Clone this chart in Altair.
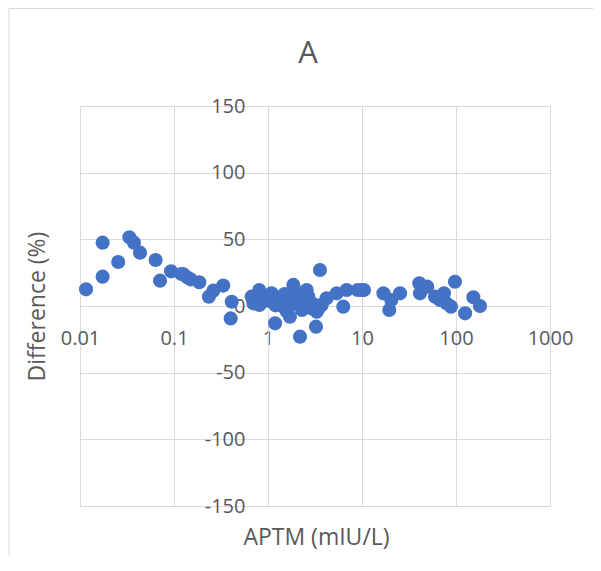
import altair as alt
import pandas as pd

# APTM (mIU/L) and Difference (%)
aptm = [
    0.0116, 0.0174, 0.0174, 0.0255, 0.0335, 0.0375, 0.0435, 0.0638, 0.071, 0.093,
    0.12, 0.126, 0.138, 0.15, 0.186, 0.235, 0.262, 0.334, 0.411, 0.401,
    0.67, 0.698, 0.70, 0.807, 0.81, 0.82, 1.09, 1.14, 1.19, 1.34,
    1.46, 1.58, 1.71, 1.86, 1.94, 2.19, 2.19, 2.46, 2.58, 2.69,
    2.92, 3.24, 3.3, 3.57, 3.72, 4.2, 5.38, 6.32, 6.87, 9.0,
    9.93, 10.5, 16.9, 19.5, 20.5, 25.4, 40.7, 41.4, 49.5, 59.8,
    67.6, 74.5, 79.0, 88.5, 97.5, 125.0, 153.0, 180.0,
    0.9, 1.0, 1.2, 1.25, 1.5, 1.6, 1.75, 2.05, 2.3, 2.8, 3.1, 3.45,
]
diff = [
    12.5, 47.5, 22.0, 33.0, 51.5, 47.5, 40.0, 34.5, 19.0, 26.0,
    24.0, 23.8, 21.5, 20.0, 17.8, 7.0, 11.5, 15.3, 3.2, -9.3,
    7.0, 5.8, 2.0, 12.0, 0.8, 2.0, 9.5, 8.0, -13.0, 5.8,
    -0.5, -4.0, -8.0, 15.8, 8.0, 4.5, -23.0, 0.8, 12.0, 7.0,
    -1.8, -15.5, -4.3, 27.0, 0.8, 5.8, 9.5, -0.5, 12.0, 12.0,
    12.0, 12.0, 9.5, -3.0, 4.5, 9.5, 17.0, 9.5, 14.5, 7.0,
    4.5, 9.5, 2.0, -0.5, 18.2, -5.5, 6.5, 0.0,
    6.0, 4.0, 0.5, 2.0, 9.0, 3.0, 1.0, 10.0, -3.0, 3.0, 1.0, -2.0,
]

x_ticks = [0.01, 0.1, 1, 10, 100, 1000]
y_ticks = [-150, -100, -50, 0, 50, 100, 150]
chart_title = "A"

df = pd.DataFrame({"APTM": aptm, "Difference": diff})

GRID = "#D9D9D9"
TXT = "#595959"
FONT = "Open Sans"
W, H = 470, 400

points = alt.Chart(df).mark_circle(size=200, color="#4472C4", opacity=1).encode(
    x=alt.X(
        "APTM:Q",
        scale=alt.Scale(type="log", domain=[0.01, 1000], nice=False),
        axis=alt.Axis(
            values=x_ticks, format="~g", grid=True, gridColor=GRID, gridWidth=1,
            domainColor=GRID, ticks=False, tickSize=0, offset=-200,
            labelPadding=22, labelFontSize=20, labelColor=TXT, labelFont=FONT,
            labelFlush=False, labelOverlap=False,
            title="APTM (mIU/L)", titleX=236, titleY=231, titleBaseline="middle",
            titleFontSize=23, titleFontWeight="normal", titleColor=TXT, titleFont=FONT,
        ),
    ),
    y=alt.Y(
        "Difference:Q",
        scale=alt.Scale(domain=[-150, 150], nice=False),
        axis=alt.Axis(
            values=y_ticks, labelExpr="'' + datum.value", grid=True, gridColor=GRID,
            gridWidth=1, domainColor=GRID, ticks=False, tickSize=0, offset=-188,
            labelPadding=23, labelFontSize=20, labelColor=TXT, labelFont=FONT,
            labelFlush=False, labelOverlap=False,
            title="Difference (%)", titleX=-231, titleY=200, titleBaseline="middle",
            titleFontSize=23, titleFontWeight="normal", titleColor=TXT, titleFont=FONT,
        ),
    ),
)

frame = pd.DataFrame({"k": [0], "title": [chart_title]})
left_border = alt.Chart(frame).mark_rule(color=GRID, strokeWidth=1).encode(
    x=alt.value(-71), y=alt.value(-98), y2=alt.value(H + 50)
)
top_border = alt.Chart(frame).mark_rule(color=GRID, strokeWidth=1).encode(
    x=alt.value(-71), x2=alt.value(W + 43), y=alt.value(-97.5)
)
title_text = alt.Chart(frame).mark_text(
    fontSize=31, font=FONT, color=TXT, align="center", baseline="alphabetic"
).encode(text="title:N", x=alt.value(228), y=alt.value(-43))

chart = alt.layer(points, left_border, top_border, title_text).properties(
    width=W,
    height=H,
    autosize="none",
    padding={"left": 72, "top": 98, "right": 43, "bottom": 50},
).configure_view(stroke=None)

chart.save("out.html", embed_options={"renderer": "svg", "actions": False})
